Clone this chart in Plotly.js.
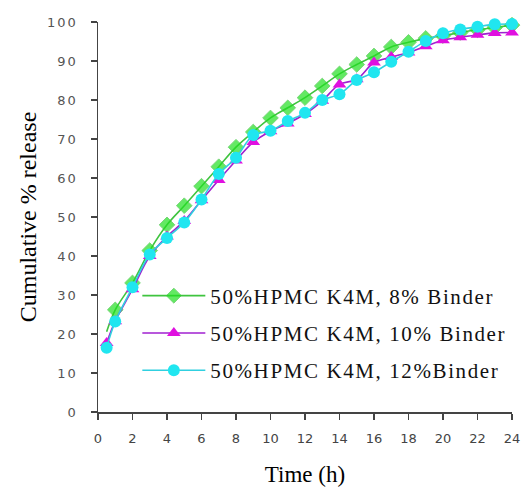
<!DOCTYPE html>
<html>
<head>
<meta charset="utf-8">
<script src="https://cdn.plot.ly/plotly-3.0.1.min.js"></script>
<style>
html,body{margin:0;padding:0;background:#fff;}
#chart{width:521px;height:487px;}
#chart .legendtext{letter-spacing:1.6px;}
#chart .ytick text{letter-spacing:2px;}
</style>
</head>
<body>
<div id="chart"></div>
<script>
var timeH = [0.5,1,2,3,4,5,6,7,8,9,10,11,12,13,14,15,16,17,18,19,20,21,22,23,24];
var binder8 = [20.6,26.2,33.1,41.4,48,52.9,57.9,62.9,67.9,71.8,75.4,78,80.6,83.6,86.7,89.1,91.3,93.6,94.8,95.8,96.5,97.3,98,98.6,99.2];
var binder10 = [17.7,23.3,31.5,40,45,49,54.3,59.5,64.5,69.2,72,74,76.4,79.8,84,85.3,89.6,91,92.2,93.8,95.3,96.1,96.7,97.2,97.3];
var binder12 = [16.5,23.2,32,40.4,44.6,48.6,54.5,61,65.2,71,72.1,74.6,76.7,80,81.5,85.1,87.1,89.8,92.4,95.1,97.1,98.1,98.8,99.4,99.5];
var seriesNames = ["50%HPMC K4M, 8% Binder","50%HPMC K4M, 10% Binder","50%HPMC K4M, 12%Binder"];
var xTicks = [0,2,4,6,8,10,12,14,16,18,20,22,24];
var yTicks = [0,10,20,30,40,50,60,70,80,90,100];

var traces = [
  {x: timeH, y: binder8, name: seriesNames[0], legendgroup: 'a', mode: 'lines+markers',
   line: {color: '#3fc43f', width: 1.6, shape: 'spline'},
   marker: {symbol: 'diamond', size: binder8.map(function(v,i){return i===0?0:12;}), color: '#22e022'}},
  {x: timeH, y: binder10, name: seriesNames[1], legendgroup: 'b', mode: 'lines+markers',
   line: {color: '#a020d0', width: 1.6, shape: 'spline'},
   marker: {symbol: 'triangle-up', size: 12, color: '#e010e0'}},
  {x: timeH, y: binder12, name: seriesNames[2], legendgroup: 'c', mode: 'lines+markers',
   line: {color: '#30d0e0', width: 1.6, shape: 'spline'},
   marker: {symbol: 'circle', size: 12, color: '#20e6f0'}}
];

var layout = {
  width: 521, height: 487,
  margin: {l: 98, r: 9, t: 22, b: 75},
  paper_bgcolor: '#fff', plot_bgcolor: '#fff',
  showlegend: true,
  legend: {x: 0.095, y: 0.35, xanchor: 'left', yanchor: 'top', bgcolor: 'rgba(0,0,0,0)',
           font: {family: 'Liberation Serif', size: 21, color: '#111'},
           traceorder: 'grouped', tracegroupgap: 7, itemwidth: 63},
  xaxis: {range: [0, 24], tickvals: xTicks, ticktext: xTicks.map(String), showgrid: false, zeroline: false,
          showline: true, linecolor: '#444', linewidth: 1.5, ticks: 'outside', ticklen: 6, tickcolor: '#444', tickwidth: 1.2,
          ticklabelstandoff: 8,
          tickfont: {family: 'DejaVu Sans', size: 13, color: '#444'},
          title: {text: 'Time (h)', font: {family: 'Liberation Serif', size: 23, color: '#000'}, standoff: 21}},
  yaxis: {range: [0, 100], tickvals: yTicks, ticktext: yTicks.map(String), showgrid: false, zeroline: false,
          showline: true, linecolor: '#444', linewidth: 1.5, ticks: 'outside', ticklen: 6, tickcolor: '#444', tickwidth: 1.2,
          ticklabelstandoff: 10,
          tickfont: {family: 'DejaVu Sans', size: 13, color: '#555'},
          title: {text: 'Cumulative % release', font: {family: 'Liberation Serif', size: 24, color: '#000'}, standoff: 9}}
};
traces.forEach(function(t){ t.cliponaxis = false; });
Plotly.newPlot('chart', traces, layout, {displayModeBar: false, staticPlot: true}).then(function(gd){
  var nodes = gd.querySelectorAll('.legend [clip-path]');
  nodes.forEach(function(n){ n.removeAttribute('clip-path'); });
});
</script>
</body>
</html>
